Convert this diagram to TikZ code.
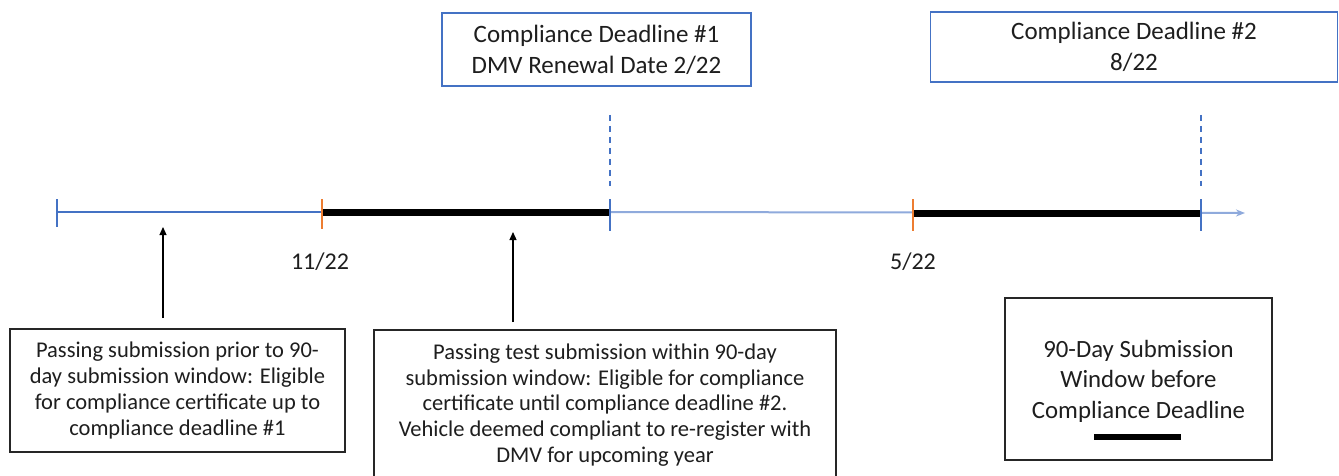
\documentclass[tikz,border=0pt]{standalone}
\usepackage{fontspec}
\setmainfont{Carlito}
\usetikzlibrary{arrows.meta}
\definecolor{mblue}{HTML}{4472C4}
\definecolor{lblue}{HTML}{8FAADC}
\definecolor{morange}{HTML}{ED7D31}
\definecolor{txt}{HTML}{1E1E1E}
\begin{document}
\begin{tikzpicture}[x=1pt,y=-1pt,
  topbox/.style={draw=mblue, line width=1.3pt, inner sep=0pt, align=center, text=txt, font=\fontsize{25}{31}\selectfont},
  botbox/.style={draw=black!85, line width=1.3pt, inner sep=0pt, align=center, text=txt, font=\fontsize{22.5}{25.8}\selectfont},
  datelbl/.style={text=txt, font=\fontsize{24}{28}\selectfont},
  tick/.style={line width=2.2pt},
  window/.style={line width=7pt, black},
  guide/.style={mblue, line width=1.5pt, dash pattern=on 6pt off 5pt},
  pointer/.style={line width=1.2pt, black, -{Triangle[length=8pt,width=7pt]}}
]
\useasboundingbox (0,0) rectangle (1339,476);
\fill[white] (0,0) rectangle (1339,476);

% top boxes
\node[topbox, minimum width=309pt, minimum height=73pt] (d1) at (596.5,49.5) {Compliance Deadline \#1\\DMV Renewal Date 2/22};
\node[topbox, minimum width=407pt, minimum height=70pt] (d2) at (1134,47) {Compliance Deadline \#2\\8/22};

% timeline coordinates
\coordinate (t0) at (57,212);
\coordinate (ta) at (322,212);
\coordinate (tb) at (610,212);
\coordinate (tc) at (913,213);
\coordinate (te) at (1201,213);
\coordinate (tend) at (1245,213);

\draw[mblue, line width=1.3pt] (t0) -- (tb);
\draw[lblue, line width=2pt, -{Stealth[length=9pt,width=7pt]}] (tb) -- (tend);
\draw[window] (ta) -- (tb);
\draw[window] (tc) -- (te);

\draw[tick, mblue] (57,199) -- (57,227);
\draw[tick, morange] (322,199) -- (322,229);
\draw[tick, mblue] (610,199) -- (610,231);
\draw[tick, morange] (913,199) -- (913,231);
\draw[tick, mblue] (1201,199) -- (1201,231);

\coordinate (g1a) at (610,115);
\coordinate (g1b) at (610,186);
\coordinate (g2a) at (1201,115);
\coordinate (g2b) at (1201,186);
\draw[guide] (g1a) -- (g1b);
\draw[guide] (g2a) -- (g2b);

% date labels
\node[datelbl] (l1) at (320,262) {11/22};
\node[datelbl] (l2) at (913,262) {5/22};

% bottom boxes
\node[botbox, minimum width=335pt, minimum height=123pt] (n1) at (177.5,390.5) {Passing submission prior to 90-\\day submission window: Eligible\\for compliance certificate up to\\compliance deadline \#1};
\node[botbox, minimum width=462pt, minimum height=150pt] (n2) at (605,405) {Passing test submission within 90-day\\submission window: Eligible for compliance\\certificate until compliance deadline \#2.\\Vehicle deemed compliant to re-register with\\DMV for upcoming year};

% pointers
\coordinate (p1) at (163,318);
\coordinate (q1) at (163,227);
\coordinate (p2) at (513,322);
\coordinate (q2) at (513,232);
\draw[pointer] (p1) -- (q1);
\draw[pointer] (p2) -- (q2);

% legend
\node[draw=black!85, line width=1.3pt, minimum width=267pt, minimum height=162pt, inner sep=0pt] (lg) at (1138.5,379) {};
\node[align=center, text=txt, font=\fontsize{24.8}{30.5}\selectfont, inner sep=0pt] (lgt) at (1138.5,381) {90-Day Submission\\Window before\\Compliance Deadline};
\coordinate (lb1) at (1094,437);
\coordinate (lb2) at (1181,437);
\draw[line width=5.5pt] (lb1) -- (lb2);
\end{tikzpicture}
\end{document}
